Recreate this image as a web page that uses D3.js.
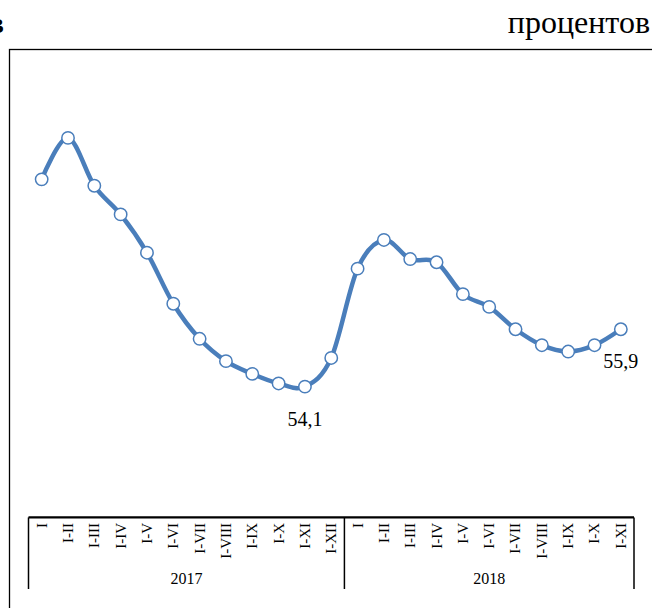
<!DOCTYPE html>
<html>
<head>
<meta charset="utf-8">
<script src="https://cdn.jsdelivr.net/npm/d3@7"></script>
<style>
  html, body { margin: 0; padding: 0; background: #fff; }
  svg { display: block; }
  text { font-family: "Liberation Serif", "Times New Roman", serif; fill: #000; }
</style>
</head>
<body>
<svg id="chart" width="652" height="608"></svg>
<script>
const periods = ["I","I-II","I-III","I-IV","I-V","I-VI","I-VII","I-VIII","I-IX","I-X","I-XI","I-XII",
                 "I","I-II","I-III","I-IV","I-V","I-VI","I-VII","I-VIII","I-IX","I-X","I-XI"];
const years = ["2017","2018"];
const yearCounts = [12, 11];
const values = [60.6,61.9,60.4,59.5,58.3,56.7,55.6,54.9,54.5,54.2,54.1,55.0,
                57.8,58.7,58.1,58.0,57.0,56.6,55.9,55.4,55.2,55.4,55.9];
const labelledIdx = [10, 22];
const yDomain = [50, 64];
const totalSlots = 23;

const svg = d3.select("#chart");
const color = "#4a7ebb";

// header texts
svg.append("text").attr("x", 4).attr("y", 33).attr("text-anchor", "end")
  .attr("font-size", 30).attr("font-weight", "bold").text("в");
svg.append("text").attr("x", 650).attr("y", 33).attr("text-anchor", "end")
  .attr("font-size", 32).text("процентов");

// outer frame
svg.append("rect").attr("x", 9.5).attr("y", 49.5).attr("width", 700).attr("height", 700)
  .attr("fill", "none").attr("stroke", "#000").attr("stroke-width", 1.3);

const x = d3.scaleBand().domain(d3.range(totalSlots)).range([28.5, 634]);
const y = d3.scaleLinear().domain(yDomain).range([517.4, 70.9]);

// axis line
const axisY = y(yDomain[0]);
svg.append("line").attr("x1", x.range()[0]).attr("x2", x.range()[1])
  .attr("y1", axisY).attr("y2", axisY).attr("stroke", "#000").attr("stroke-width", 2.2);

// group separators
let acc = 0;
const bounds = [0];
yearCounts.forEach(c => { acc += c; bounds.push(acc); });
bounds.forEach(b => {
  const xx = b < totalSlots ? x(b) : x.range()[1];
  svg.append("line").attr("x1", xx).attr("x2", xx).attr("y1", axisY).attr("y2", 589)
    .attr("stroke", "#000").attr("stroke-width", 1.5);
});

// tick labels
periods.forEach((p, i) => {
  const cx = x(i) + x.bandwidth() / 2;
  svg.append("text")
    .attr("transform", `translate(${cx},${axisY + 5.5}) rotate(-90)`)
    .attr("text-anchor", "end").attr("dy", "0.33em")
    .attr("font-size", 15).text(p);
});

// year labels
years.forEach((yr, k) => {
  const x0 = x(bounds[k]);
  const x1 = bounds[k + 1] < totalSlots ? x(bounds[k + 1]) : x.range()[1];
  svg.append("text").attr("x", (x0 + x1) / 2).attr("y", 584)
    .attr("text-anchor", "middle").attr("font-size", 16).text(yr);
});

// line
const line = d3.line()
  .x((d, i) => x(i) + x.bandwidth() / 2)
  .y(d => y(d))
  .curve(d3.curveCardinal.tension(0));
svg.append("path").datum(values).attr("d", line)
  .attr("fill", "none").attr("stroke", color).attr("stroke-width", 4.5)
  .attr("stroke-linejoin", "round");

// markers
svg.selectAll("circle.m").data(values).enter().append("circle")
  .attr("class", "m")
  .attr("cx", (d, i) => x(i) + x.bandwidth() / 2)
  .attr("cy", d => y(d))
  .attr("r", 6.2)
  .attr("fill", "#fff").attr("stroke", color).attr("stroke-width", 1.5);

// data labels
labelledIdx.forEach(i => {
  svg.append("text")
    .attr("x", x(i) + x.bandwidth() / 2)
    .attr("y", y(values[i]) + 39)
    .attr("text-anchor", "middle").attr("font-size", 20)
    .text(String(values[i].toFixed(1)).replace(".", ","));
});
</script>
</body>
</html>
